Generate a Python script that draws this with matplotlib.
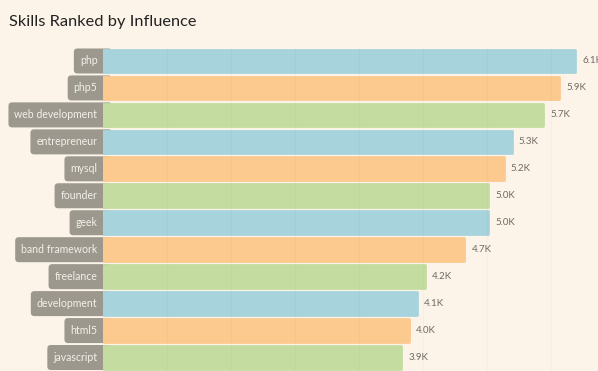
import numpy as np
import matplotlib
matplotlib.use("Agg")
import matplotlib.pyplot as plt
from matplotlib.patches import FancyBboxPatch

# data
skills = ["php", "php5", "web development", "entrepreneur", "mysql", "founder",
          "geek", "band framework", "freelance", "development", "html5", "javascript"]
influence = [6.1, 5.9, 5.7, 5.3, 5.2, 5.0, 5.0, 4.7, 4.2, 4.1, 4.0, 3.9]  # thousands
bar_colors = ["#a7d3dd", "#fcc98f", "#c5dca0"]

bg = "#fcf4e8"
plt.rcParams["font.family"] = ["Lato", "DejaVu Sans"]

W, H = 598, 371
fig = plt.figure(figsize=(W / 100, H / 100), dpi=100, facecolor=bg)
ax = fig.add_axes([103 / W, 0, 1 - 103 / W, 1 - 47.5 / H])
ax.set_facecolor(bg)

y = np.arange(len(skills))
colors = [bar_colors[i % 3] for i in range(len(skills))]

# thick edge in the same colour with round joins gives the soft corners
bars = ax.barh(y, influence, height=0.84, color=colors, edgecolor=colors,
               linewidth=2.0, joinstyle="round", zorder=2)

ax.set_xlim(0.127, 6.39)
ax.set_ylim(len(skills) - 0.5, -0.5)

# faint vertical grid
for gx in np.arange(0.127 + 0.81, 6.39, 0.81):
    ax.axvline(gx, color="#000000", alpha=0.02, linewidth=1, zorder=3)

# value labels
for yi, v in zip(y, influence):
    ax.annotate(f"{v:.1f}K", (v, yi), xytext=(5, 0), textcoords="offset points",
                va="center", ha="left", fontsize=7, color="#6e6a64",
                annotation_clip=False, zorder=4)

# grey label tags left of the bars
labels = []
for yi, name in zip(y, skills):
    t = ax.annotate(name, (0.127, yi), xytext=(-4, 0), textcoords="offset points",
                    va="center", ha="right", fontsize=7.6, color="#f3f0ea",
                    annotation_clip=False, zorder=1.5)
    labels.append(t)

fig.canvas.draw()
r = fig.canvas.get_renderer()
for yi, t in zip(y, labels):
    ext = t.get_window_extent(r)
    yc = ax.transData.transform((0, yi))[1]
    x0 = ext.x0 - 6
    box = FancyBboxPatch((x0 / W, (yc - 12.5) / H), (112 - x0) / W, 25 / H,
                         boxstyle="round,pad=0,rounding_size=0.006",
                         transform=fig.transFigure, fc="#9c988e", ec="none",
                         zorder=1, clip_on=False, mutation_aspect=W / H)
    ax.add_artist(box)

for s in ax.spines.values():
    s.set_visible(False)
ax.set_xticks([])
ax.set_yticks([])

fig.text(9 / W, 1 - 22 / H, "Skills Ranked by Influence", fontsize=11.8,
         color="#222222", va="center", ha="left")

fig.savefig("out.png", dpi=100, facecolor=bg)
